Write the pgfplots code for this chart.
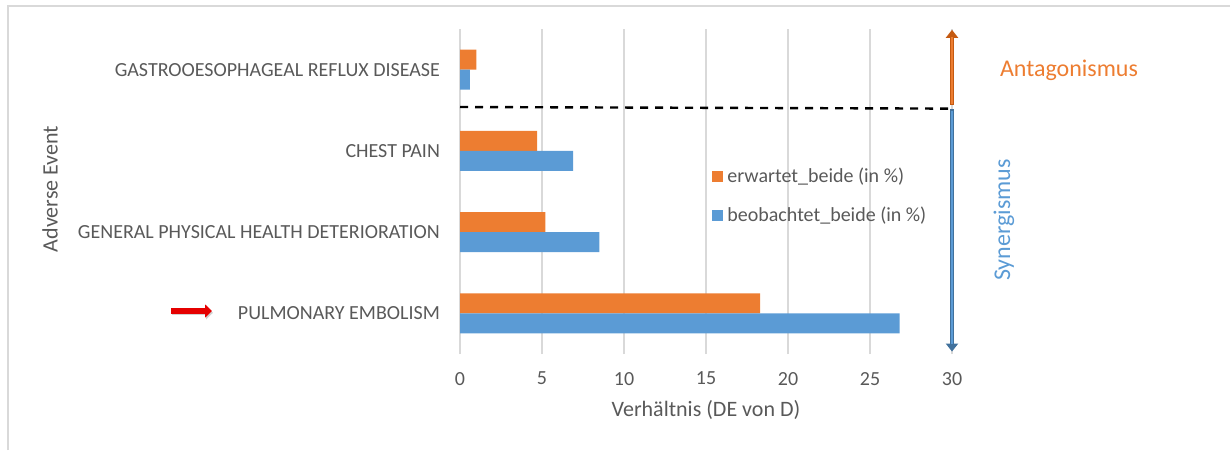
\documentclass[border=0pt]{standalone}
\usepackage{fontspec}
\setmainfont{Carlito}
\usepackage{pgfplots}
\pgfplotsset{compat=1.18}
\usetikzlibrary{arrows.meta}

\definecolor{xlorange}{HTML}{ED7D31}
\definecolor{xlorangedark}{HTML}{C55A11}
\definecolor{xlblue}{HTML}{5B9BD5}
\definecolor{xlbluedark}{HTML}{41719C}
\definecolor{gridgray}{HTML}{D9D9D9}
\definecolor{textgray}{HTML}{595959}

\begin{document}
\begin{tikzpicture}
\useasboundingbox (0,0) rectangle (615pt,225pt);
% frame of the chart area (only top and left edge visible)
\draw[line width=1pt, gridgray] (4pt,0) -- (4pt,222pt) -- (615pt,222pt);

\begin{axis}[
  at={(230pt,48pt)}, anchor=south west,
  scale only axis,
  width=246pt, height=162.5pt,
  clip=false,
  xbar, bar width=10pt,
  xmin=0, xmax=30,
  ymin=-0.5, ymax=3.5,
  xtick={0,5,...,30},
  ytick={0,1,2,3},
  yticklabels={PULMONARY EMBOLISM, GENERAL PHYSICAL HEALTH DETERIORATION, CHEST PAIN, GASTROOESOPHAGEAL REFLUX DISEASE},
  xmajorgrids,
  major grid style={gridgray, line width=0.8pt},
  axis line style={draw=none},
  major tick length=0pt,
  tick label style={font=\fontsize{10}{12}\selectfont, text=textgray},
  /pgf/number format/assume math mode=true,
  yticklabel style={xshift=-6.5pt},
  xticklabel style={yshift=-5.5pt},
  xlabel={Verhältnis (DE von D)},
  ylabel={Adverse Event},
  label style={font=\fontsize{11}{13}\selectfont, text=textgray},
  xlabel style={at={(axis description cs:0.5,-0.172)}, anchor=center},
  ylabel style={at={(axis description cs:-0.833,0.508)}, anchor=center, rotate=0},
  legend style={at={(rel axis cs:0.5,0.6)}, anchor=north west, draw=none, fill=none,
    font=\fontsize{10}{12}\selectfont, text=textgray, row sep=7pt},
  legend cell align=left,
  legend image code/.code={\fill[#1] (0pt,-2.8pt) rectangle (5.5pt,2.8pt);},
]
\addplot[fill=xlorange, draw=none, bar shift=5pt] coordinates {
  (18.3,0) (5.2,1) (4.7,2) (1.0,3)
};
\addlegendentry{erwartet\_beide (in \%)}
\addplot[fill=xlblue, draw=none, bar shift=-5pt] coordinates {
  (26.8,0) (8.5,1) (6.9,2) (0.6,3)
};
\addlegendentry{beobachtet\_beide (in \%)}

% separation line between antagonism and synergism
\draw[black, line width=1.2pt, dash pattern=on 4pt off 3.5pt] (axis cs:0,2.54) -- (axis cs:30,2.52);
% arrows on the right
\draw[xlorangedark, line width=2.4pt, -{Triangle[width=6pt,length=4pt]}] (axis cs:30,2.565) -- (axis cs:30,3.49);
\draw[xlorange, line width=1.1pt] (axis cs:30,2.58) -- (axis cs:30,3.4);
\draw[xlbluedark, line width=2.4pt, -{Triangle[width=6pt,length=4pt]}] (axis cs:30,2.51) -- (axis cs:30,-0.47);
\draw[xlblue, line width=1.1pt] (axis cs:30,2.495) -- (axis cs:30,-0.38);
\end{axis}

\node[xlorange, font=\fontsize{12}{14}\selectfont] at (534.5pt,190pt) {Antagonismus};
\node[xlblue, rotate=90, font=\fontsize{12}{14}\selectfont] at (502pt,115pt) {Synergismus};
% red marker arrow
\draw[black!18, line width=2.6pt, -{Triangle[width=6.5pt,length=3.5pt]}] (86pt,68.6pt) -- (106.5pt,68.6pt);
\draw[red!90!black, line width=2.6pt, -{Triangle[width=6.5pt,length=3.5pt]}] (85.5pt,69.5pt) -- (106pt,69.5pt);
\end{tikzpicture}
\end{document}
